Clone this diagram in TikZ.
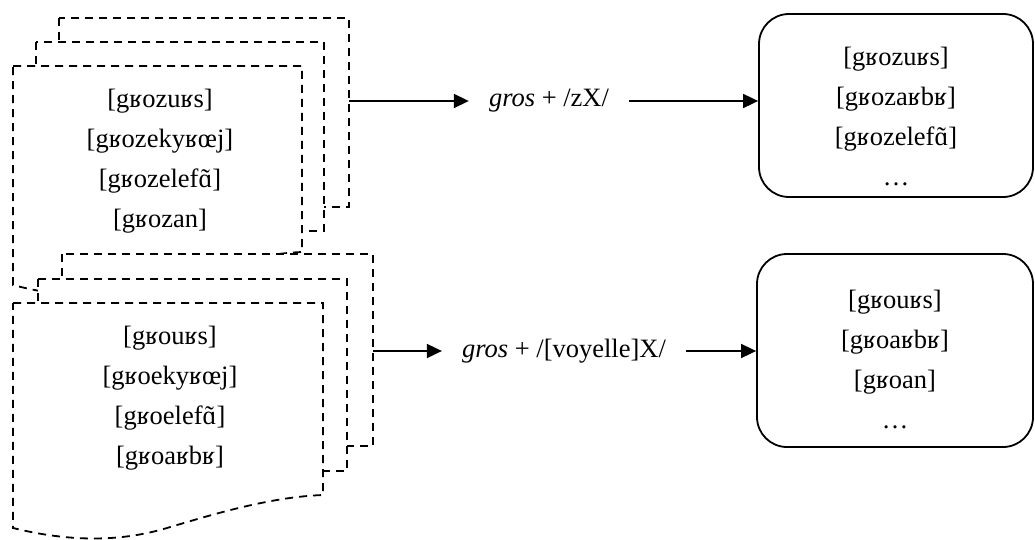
\documentclass[tikz,border=0pt]{standalone}
\usepackage{fontspec}
\setmainfont{Liberation Serif}
\usetikzlibrary{arrows.meta}
\newcommand{\nasala}{\leavevmode\setbox0\hbox{ɑ}\rlap{\hbox to\wd0{\hss\char"02DC\hss}}\box0}

\begin{document}
\begin{tikzpicture}[x=1pt, y=-1pt, >={Triangle[length=15pt,width=14pt]},
    page/.style={draw, dash pattern=on 8pt off 6pt, line width=1.8pt, fill=white},
    lst/.style={align=center, font=\fontsize{26.5}{40}\selectfont},
    res/.style={lst, draw, line width=1.8pt, rounded corners=30pt},
    lbl/.style={font=\fontsize{26.5}{32}\selectfont, inner xsep=20pt, inner ysep=0pt}]
    \useasboundingbox (0, 0) rectangle (1035, 540);
    \draw[page] (59, 18) rectangle (349, 207);
    \draw[page] (36, 42) rectangle (324, 231);
    \draw[page] (13, 66) -- (302, 66) -- (302, 252) .. controls (253, 254) and (200, 271) .. (157, 285) .. controls (113, 299) and (66, 299) .. (13, 285) -- cycle;
    \draw[page] (62, 254) rectangle (373, 446);
    \draw[page] (38, 279) rectangle (347, 471);
    \draw[page] (13, 303) -- (323, 303) -- (323, 495) .. controls (270, 497) and (214, 514) .. (167, 528) .. controls (120, 542) and (70, 542) .. (13, 528) -- cycle;
    \node[lst] (formsz) at (160, 161) {{[gʁozuʁs]}\\{[gʁozekyʁœj]}\\{[gʁozelef\nasala]}\\{[gʁozan]}};
    \node[lst] (formsv) at (170, 398) {{[gʁouʁs]}\\{[gʁoekyʁœj]}\\{[gʁoelef\nasala]}\\{[gʁoaʁbʁ]}};
    \coordinate (srcz) at (349, 101);
    \coordinate (srcv) at (373, 351);
    \node[lbl] (rulez) at (549, 101) {\textit{gros} + /zX/};
    \node[lbl] (rulev) at (564, 351) {\textit{gros} + /[voyelle]X/};
    \node[res, minimum width=274pt, minimum height=183pt] (outz) at (896, 105.5) {{\rule{0pt}{40pt}[gʁozuʁs]}\\{[gʁozaʁbʁ]}\\{[gʁozelef\nasala]}\\…};
    \node[res, minimum width=276pt, minimum height=193pt] (outv) at (895, 350.5) {{\rule{0pt}{36pt}[gʁouʁs]}\\{[gʁoaʁbʁ]}\\{[gʁoan]}\\…};
    \draw[->, line width=1.8pt] (srcz) -- (rulez.west);
    \draw[->, line width=1.8pt] (rulez.east) -- (rulez.east -| outz.west);
    \draw[->, line width=1.8pt] (srcv) -- (rulev.west);
    \draw[->, line width=1.8pt] (rulev.east) -- (rulev.east -| outv.west);
\end{tikzpicture}
\end{document}
